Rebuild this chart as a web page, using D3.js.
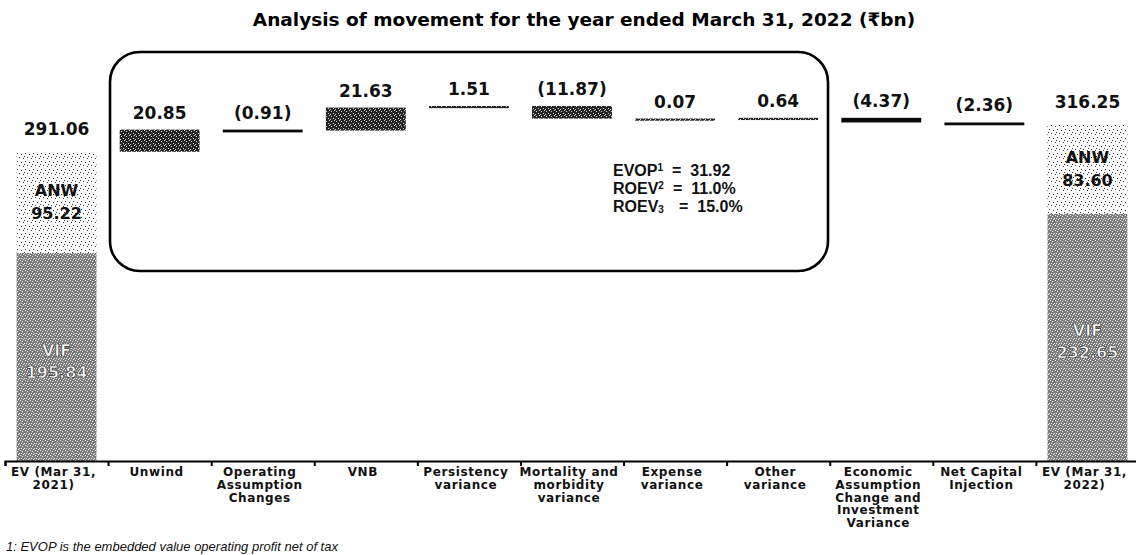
<!DOCTYPE html>
<html><head><meta charset="utf-8">
<script src="https://cdn.jsdelivr.net/npm/d3@7"></script>
<style>body{margin:0;background:#fff} svg{display:block}</style>
</head><body>
<svg id="c" width="1136" height="555"></svg>
<script>
// ---- data ----
const categories = ["EV (Mar 31,\n2021)", "Unwind", "Operating\nAssumption\nChanges", "VNB",
  "Persistency\nvariance", "Mortality and\nmorbidity\nvariance", "Expense\nvariance", "Other\nvariance",
  "Economic\nAssumption\nChange and\nInvestment\nVariance", "Net Capital\nInjection", "EV (Mar 31,\n2022)"];
const changes = [20.85, -0.91, 21.63, 1.51, -11.87, 0.07, 0.64, -4.37, -2.36];
const evANW = [95.22, 83.60];
const evVIF = [195.84, 232.65];
const kpiNames = ["EVOP", "ROEV", "ROEV"];
const kpiMarks = ["1", "2", "3"];
const kpiValues = ["31.92", "11.0%", "15.0%"];
const title = "Analysis of movement for the year ended March 31, 2022 (\u20B9bn)";
const footnote = "1: EVOP is the embedded value operating profit net of tax";

// ---- setup ----
const svg = d3.select("#c");
const defs = svg.append("defs");
function pat(id, size, bg, fg, pts) {
  const p = defs.append("pattern").attr("id", id).attr("patternUnits", "userSpaceOnUse")
    .attr("width", size).attr("height", size);
  p.append("rect").attr("width", size).attr("height", size).attr("fill", bg);
  pts.forEach(([a, b]) => p.append("rect").attr("x", a).attr("y", b).attr("width", 1).attr("height", 1).attr("fill", fg));
}
pat("anw", 8, "#fff", "#333", [[1,1],[5,2],[3,5],[7,6],[0,4]]);
pat("vif", 5, "#7e7e7e", "#e8e8e8", [[0,0],[2,1],[4,3],[1,3],[3,4]]);
pat("dark", 5, "#262626", "#cfcfcf", [[1,1],[3,3],[4,0],[0,4]]);

const n = categories.length;
const x = d3.scaleBand().domain(d3.range(n)).range([5, 1139]).paddingInner(0.225).paddingOuter(0.1125);
const xb = d3.scaleLinear().domain([0, n]).range([5, 1139]);
const y = d3.scaleLinear().domain([0, 400]).range([461, 36]);
const fmt = d3.format(".2f");
const valFont = "'DejaVu Sans', sans-serif";

// title
svg.append("text").attr("x", 584).attr("y", 26).attr("text-anchor", "middle")
  .attr("font-family", valFont).attr("font-weight", "bold").attr("font-size", 18.5).text(title);

// rounded box
svg.append("rect").attr("x", 110).attr("y", 52).attr("width", 718).attr("height", 219).attr("rx", 30)
  .attr("fill", "none").attr("stroke", "#000").attr("stroke-width", 2.6);

// waterfall steps
let cum = evANW[0] + evVIF[0];
const steps = changes.map((v, i) => { const s = { i: i + 1, v, a: cum, b: cum + v }; cum += v; return s; });
const totals = [0, n - 1].map((idx, k) => ({ i: idx, anw: evANW[k], vif: evVIF[k], tot: evANW[k] + evVIF[k] }));

// total bars
const tg = svg.append("g");
tg.selectAll(".vif").data(totals).join("rect")
  .attr("x", d => x(d.i)).attr("width", x.bandwidth())
  .attr("y", d => y(d.vif)).attr("height", d => y(0) - y(d.vif)).attr("fill", "url(#vif)");
tg.selectAll(".anw").data(totals).join("rect")
  .attr("x", d => x(d.i)).attr("width", x.bandwidth())
  .attr("y", d => y(d.tot)).attr("height", d => y(d.vif) - y(d.tot)).attr("fill", "url(#anw)");

// step bars
svg.append("g").selectAll("rect").data(steps).join("rect")
  .attr("x", d => x(d.i)).attr("width", x.bandwidth())
  .attr("y", d => y(Math.max(d.a, d.b)))
  .attr("height", d => Math.max(Math.abs(y(d.a) - y(d.b)), d.v < 0 ? 2.8 : 2.2))
  .attr("fill", d => (Math.abs(d.v) < 6 && d.v < 0) ? "#0a0a0a" : "url(#dark)");

// value labels
const lab = svg.append("g").attr("font-family", valFont).attr("font-weight", "bold").attr("font-size", 17)
  .attr("text-anchor", "middle").attr("fill", "#111");
lab.selectAll(".s").data(steps).join("text")
  .attr("x", d => x(d.i) + x.bandwidth() / 2).attr("y", d => y(Math.max(d.a, d.b)) - 11)
  .text(d => d.v < 0 ? "(" + fmt(-d.v) + ")" : fmt(d.v));
lab.selectAll(".t").data(totals).join("text")
  .attr("x", d => x(d.i) + x.bandwidth() / 2).attr("y", d => y(d.tot) - 17)
  .text(d => fmt(d.tot));

// inner labels for totals
const inner = svg.append("g").attr("font-family", valFont).attr("font-weight", "bold").attr("font-size", 16)
  .attr("text-anchor", "middle");
totals.forEach(d => {
  const cx = x(d.i) + x.bandwidth() / 2;
  const ma = (y(d.tot) + y(d.vif)) / 2, mv = (y(d.vif) + y(0)) / 2;
  inner.append("text").attr("x", cx).attr("y", ma - 6).attr("fill", "#111").text("ANW");
  inner.append("text").attr("x", cx).attr("y", ma + 17).attr("fill", "#111").text(fmt(d.anw));
  inner.append("text").attr("x", cx).attr("y", mv - 1).attr("fill", "#fff").attr("stroke", "#333").attr("stroke-width", 0.7).text("VIF");
  inner.append("text").attr("x", cx).attr("y", mv + 21).attr("fill", "#fff").attr("stroke", "#333").attr("stroke-width", 0.7).text(fmt(d.vif));
});

// KPI text in box
const kg = svg.append("g").attr("font-family", "'Liberation Sans', Arial, sans-serif").attr("font-weight", "bold").attr("font-size", 16).attr("fill", "#111");
const kpiY = [176, 194, 212], eqX = [672, 673, 679];
kpiNames.forEach((nm, i) => {
  const t = kg.append("text").attr("x", 613).attr("y", kpiY[i]);
  t.append("tspan").text(nm);
  t.append("tspan").attr("font-size", 10).attr("dy", i < 2 ? -5 : 1).text(kpiMarks[i]);
  kg.append("text").attr("x", eqX[i]).attr("y", kpiY[i]).attr("xml:space", "preserve").text("=  " + kpiValues[i]);
});

// axis
const ax = svg.append("g").attr("transform", "translate(0,461)")
  .call(d3.axisBottom(xb).tickValues(d3.range(n + 1)).tickSize(5).tickFormat(""));
ax.selectAll("path,line").attr("stroke", "#000").attr("stroke-width", 2);

// category labels
const cg = svg.append("g").attr("font-family", valFont).attr("font-weight", "bold").attr("font-size", 12)
  .attr("text-anchor", "middle").attr("fill", "#111").attr("letter-spacing", 0.6);
categories.forEach((c, i) => {
  const cx = x(i) + x.bandwidth() / 2 - 3;
  const t = cg.append("text").attr("x", cx).attr("y", 476);
  c.split("\n").forEach((ln, j) => t.append("tspan").attr("x", cx).attr("dy", j ? 12.8 : 0).text(ln));
});

// footnote
svg.append("text").attr("x", 6).attr("y", 551).attr("font-family", "'Liberation Sans', Arial, sans-serif")
  .attr("font-style", "italic").attr("font-size", 13).attr("fill", "#111").text(footnote);
</script></body></html>
